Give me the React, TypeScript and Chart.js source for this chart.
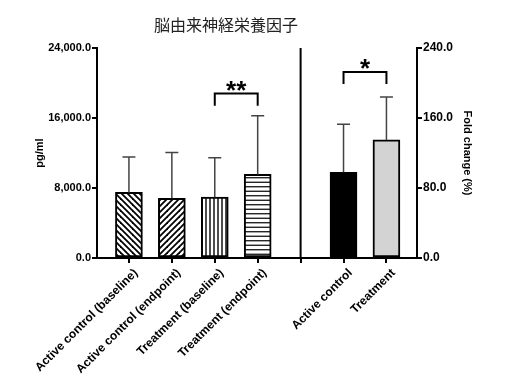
import React, { useEffect, useRef } from 'react';
import { Chart, registerables } from 'chart.js';

Chart.register(...registerables);

const titleText = '脳由来神経栄養因子';
const categories = [
  'Active control (baseline)',
  'Active control (endpoint)',
  'Treatment (baseline)',
  'Treatment (endpoint)',
  '',
  'Active control',
  'Treatment',
];
const categoryPositions = [0, 1, 2, 3, 4, 5, 6];
const dividerPosition = 4;

const leftPositions = [0, 1, 2, 3];
const leftMeans = [7500, 6830, 6950, 9550];
const leftUpper = [11550, 12060, 11450, 16250];
const leftPatterns = ['back', 'fwd', 'vert', 'horiz'];

const rightPositions = [5, 6];
const rightMeans = [98, 135];
const rightUpper = [153, 184];
const rightColors = ['#000000', '#d3d3d3'];

const leftTicks = [0, 8000, 16000, 24000];
const rightTicks = [0, 80, 160, 240];

const sigFrom = [2, 5];
const sigTo = [3, 6];
const sigTop = [18800, 212.5];
const sigLeg = [17400, 199];
const sigLabel = ['**', '*'];
const sigAxis = ['y', 'y2'];

const FONT = '"Liberation Sans", Arial, sans-serif';

function makePattern(kind: string): CanvasPattern | string {
  const c = document.createElement('canvas');
  const s = kind === 'vert' ? 4 : kind === 'horiz' ? 4.5 : 6;
  const size = Math.round(s * 2);
  c.width = size;
  c.height = size;
  const g = c.getContext('2d');
  if (!g) return '#fff';
  g.fillStyle = '#fff';
  g.fillRect(0, 0, size, size);
  g.strokeStyle = '#000';
  const step = size / 2;
  if (kind === 'vert') {
    g.lineWidth = 1.4;
    for (let k = 0; k < 2; k++) {
      g.beginPath();
      g.moveTo(k * step + step / 2, 0);
      g.lineTo(k * step + step / 2, size);
      g.stroke();
    }
  } else if (kind === 'horiz') {
    g.lineWidth = 1.2;
    for (let k = 0; k < 2; k++) {
      g.beginPath();
      g.moveTo(0, k * step + step / 2);
      g.lineTo(size, k * step + step / 2);
      g.stroke();
    }
  } else {
    g.lineWidth = 1.8;
    for (let k = -3; k <= 3; k++) {
      g.beginPath();
      if (kind === 'back') {
        g.moveTo(-size, -size + k * step);
        g.lineTo(2 * size, 2 * size + k * step);
      } else {
        g.moveTo(-size, 2 * size + k * step);
        g.lineTo(2 * size, -size + k * step);
      }
      g.stroke();
    }
  }
  const p = g.createPattern(c, 'repeat');
  return p || '#fff';
}

const overlayPlugin = {
  id: 'overlay',
  afterDatasetsDraw(chart: any) {
    const { ctx, chartArea, scales } = chart;
    const x = scales.x;
    ctx.save();
    const drawErr = (positions: number[], means: number[], upper: number[], yScale: any) => {
      ctx.strokeStyle = '#444';
      ctx.lineWidth = 1.5;
      positions.forEach((p, i) => {
        const px = x.getPixelForValue(p);
        const yb = yScale.getPixelForValue(means[i]);
        const yt = yScale.getPixelForValue(upper[i]);
        ctx.beginPath();
        ctx.moveTo(px, yb);
        ctx.lineTo(px, yt);
        ctx.moveTo(px - 6.5, yt);
        ctx.lineTo(px + 6.5, yt);
        ctx.stroke();
      });
    };
    drawErr(leftPositions, leftMeans, leftUpper, scales.y);
    drawErr(rightPositions, rightMeans, rightUpper, scales.y2);

    const dx = x.getPixelForValue(dividerPosition);
    ctx.strokeStyle = '#000';
    ctx.lineWidth = 2;
    ctx.beginPath();
    ctx.moveTo(dx, chartArea.top);
    ctx.lineTo(dx, chartArea.bottom);
    ctx.stroke();

    sigFrom.forEach((f, i) => {
      const ys = scales[sigAxis[i]];
      const x1 = x.getPixelForValue(f);
      const x2 = x.getPixelForValue(sigTo[i]);
      const yt = ys.getPixelForValue(sigTop[i]);
      const yl = ys.getPixelForValue(sigLeg[i]);
      ctx.strokeStyle = '#000';
      ctx.lineWidth = 2;
      ctx.beginPath();
      ctx.moveTo(x1, yl);
      ctx.lineTo(x1, yt);
      ctx.lineTo(x2, yt);
      ctx.lineTo(x2, yl);
      ctx.stroke();
      ctx.fillStyle = '#000';
      ctx.font = 'bold 26px ' + FONT;
      ctx.textAlign = 'center';
      ctx.textBaseline = 'alphabetic';
      ctx.fillText(sigLabel[i], (x1 + x2) / 2, yt + 5);
    });

    ctx.fillStyle = '#222';
    ctx.font = '16px "Noto Sans CJK JP", sans-serif';
    ctx.textAlign = 'center';
    ctx.textBaseline = 'middle';
    ctx.fillText(titleText, 226, 25);
    ctx.restore();
  },
};

export default function App() {
  const ref = useRef<HTMLCanvasElement | null>(null);
  useEffect(() => {
    if (!ref.current) return;
    const chart = new Chart(ref.current, {
      type: 'bar',
      data: {
        datasets: [
          {
            yAxisID: 'y',
            data: leftPositions.map((p, i) => ({ x: p, y: leftMeans[i] })),
            backgroundColor: leftPatterns.map((k) => makePattern(k)) as any,
            borderColor: '#000',
            borderWidth: 2,
            borderSkipped: false,
            grouped: false,
            barThickness: 27,
          } as any,
          {
            yAxisID: 'y2',
            data: rightPositions.map((p, i) => ({ x: p, y: rightMeans[i] })),
            backgroundColor: rightColors,
            borderColor: '#000',
            borderWidth: 2,
            borderSkipped: false,
            grouped: false,
            barThickness: 27,
          } as any,
        ],
      },
      options: {
        responsive: false,
        animation: false,
        layout: { padding: { top: 48, left: 0, right: 0, bottom: 0 } },
        plugins: { legend: { display: false }, tooltip: { enabled: false }, title: { display: false } },
        scales: {
          x: {
            type: 'linear',
            position: 'bottom',
            offset: false,
            min: -0.744,
            max: 6.712,
            afterBuildTicks: (s: any) => {
              s.ticks = categoryPositions.map((v) => ({ value: v }));
            },
            afterFit: (s: any) => {
              s.height = 123;
            },
            ticks: {
              autoSkip: false,
              minRotation: 45,
              maxRotation: 45,
              padding: 3,
              labelOffset: 7,
              color: '#000',
              font: { family: FONT, size: 12, weight: 'bold' },
              callback: (v: any) => categories[Math.round(Number(v))] ?? '',
            },
            grid: { offset: false, drawOnChartArea: false, drawTicks: true, tickLength: 5, color: '#000', lineWidth: 2 },
            border: { display: true, color: '#000', width: 2 },
          } as any,
          y: {
            type: 'linear',
            position: 'left',
            min: 0,
            max: 24000,
            afterBuildTicks: (s: any) => {
              s.ticks = leftTicks.map((v) => ({ value: v }));
            },
            afterFit: (s: any) => {
              s.width = 97;
            },
            ticks: {
              padding: 1,
              color: '#000',
              font: { family: FONT, size: 11, weight: 'bold' },
              callback: (v: any) =>
                Number(v).toLocaleString('en-US', { minimumFractionDigits: 1, maximumFractionDigits: 1 }),
            },
            title: {
              display: true,
              text: 'pg/ml',
              color: '#000',
              font: { family: FONT, size: 11, weight: 'bold' },
              padding: { top: 33, bottom: 0 },
            },
            grid: { drawOnChartArea: false, drawTicks: true, tickLength: 5, color: '#000', lineWidth: 2 },
            border: { display: true, color: '#000', width: 2 },
          } as any,
          y2: {
            type: 'linear',
            position: 'right',
            min: 0,
            max: 240,
            afterBuildTicks: (s: any) => {
              s.ticks = rightTicks.map((v) => ({ value: v }));
            },
            afterFit: (s: any) => {
              s.width = 95;
            },
            ticks: {
              padding: 1,
              color: '#000',
              font: { family: FONT, size: 12, weight: 'bold' },
              callback: (v: any) => Number(v).toFixed(1),
            },
            title: {
              display: true,
              text: 'Fold change (%)',
              color: '#000',
              font: { family: FONT, size: 11, weight: 'bold' },
              padding: { top: 38, bottom: 0 },
            },
            grid: { drawOnChartArea: false, drawTicks: true, tickLength: 5, color: '#000', lineWidth: 2 },
            border: { display: true, color: '#000', width: 2 },
          } as any,
        },
      },
      plugins: [overlayPlugin],
    });
    return () => chart.destroy();
  }, []);
  return (
    <div style={{ position: 'fixed', left: 0, top: 0, width: 512, height: 381, background: '#fff' }}>
      <canvas ref={ref} width={512} height={381} style={{ display: 'block' }} />
    </div>
  );
}
